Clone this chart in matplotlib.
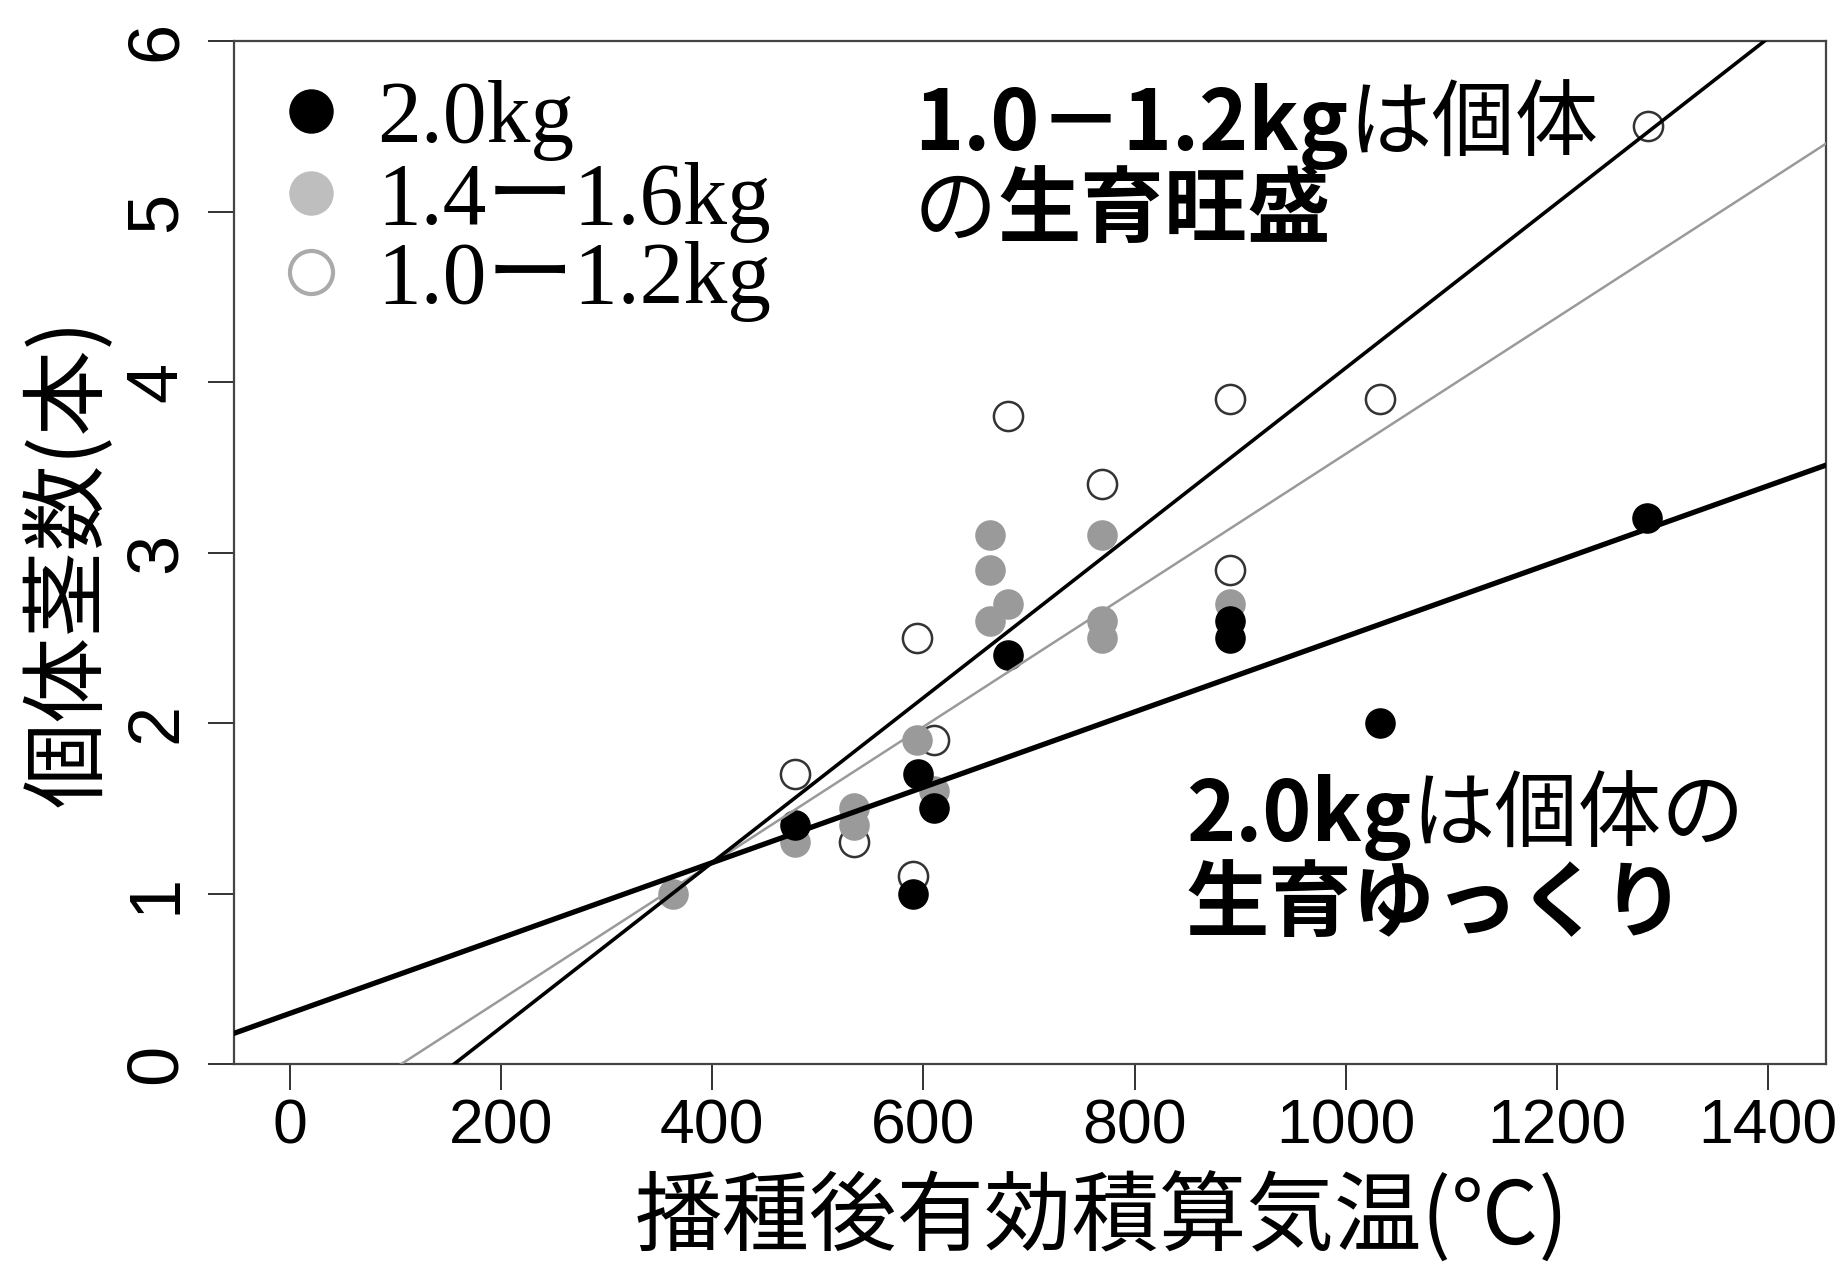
import matplotlib.pyplot as plt
import numpy as np

# 2.0kg
x_20 = [478, 595, 610, 590, 680, 890, 890, 1033, 1285]
y_20 = [1.4, 1.7, 1.5, 1.0, 2.4, 2.6, 2.5, 2.0, 3.2]
# 1.4-1.6kg
x_15 = [363, 478, 534, 534, 594, 610, 663, 663, 680, 663, 769, 769, 769, 890]
y_15 = [1.0, 1.3, 1.5, 1.4, 1.9, 1.6, 3.1, 2.9, 2.7, 2.6, 3.1, 2.6, 2.5, 2.7]
# 1.0-1.2kg
x_11 = [478, 534, 594, 610, 590, 680, 769, 890, 890, 1033, 1286]
y_11 = [1.7, 1.3, 2.5, 1.9, 1.1, 3.8, 3.4, 3.9, 2.9, 3.9, 5.5]

# regression lines: intercept, slope
fit_20 = [0.297, 0.00221]
fit_15 = [-0.422, 0.00400]
fit_11 = [-0.752, 0.004834]

labels = ["2.0kg", "1.4ー1.6kg", "1.0ー1.2kg"]
xticks = [0, 200, 400, 600, 800, 1000, 1200, 1400]
yticks = [0, 1, 2, 3, 4, 5, 6]

W, H = 1838, 1269
fig = plt.figure(figsize=(W / 100, H / 100), dpi=100)
ax = fig.add_axes([234 / W, 1 - 1064 / H, (1826 - 234) / W, (1064 - 41) / H])

xmin, xmax = -53, 1455
ax.set_xlim(xmin, xmax)
ax.set_ylim(0, 6)

ms = 21
ax.plot(x_11, y_11, "o", ms=ms, mfc="white", mec="#333333", mew=1.8, ls="none", zorder=2)
ax.plot(x_15, y_15, "o", ms=ms, color="#9a9a9a", ls="none", zorder=3)
ax.plot(x_20, y_20, "o", ms=ms, color="black", ls="none", zorder=4)

xl = np.array([xmin - 50, xmax + 50])
ax.plot(xl, fit_15[0] + fit_15[1] * xl, color="#9a9a9a", lw=1.8, zorder=5)
ax.plot(xl, fit_11[0] + fit_11[1] * xl, color="black", lw=2.6, zorder=5)
ax.plot(xl, fit_20[0] + fit_20[1] * xl, color="black", lw=3.8, zorder=5)

ax.set_xticks(xticks)
ax.set_yticks(yticks)
tickfont = ["Liberation Sans Narrow", "Liberation Sans"]
ax.tick_params(length=19, width=1.3, color="#222222", pad=5)
ax.tick_params(axis="y", pad=12)
for lbl in ax.get_xticklabels():
    lbl.set_family(tickfont)
    lbl.set_fontsize(45)
for lbl in ax.get_yticklabels():
    lbl.set_family(tickfont)
    lbl.set_fontsize(52)
    lbl.set_rotation(90)
    lbl.set_va("center")
for sp in ax.spines.values():
    sp.set_color("#444444")
    sp.set_linewidth(1.6)

cjk = ["Noto Sans CJK JP", "DejaVu Sans"]
fig.text(1102 / W, 1 - 1219 / H, "播種後有効積算気温(℃)", family=cjk, fontsize=63,
         ha="center", va="center")
fig.text(70 / W, 1 - 563 / H, "個体茎数(本)", family=cjk, fontsize=62,
         ha="center", va="center", rotation=90)

# legend
serif = ["Liberation Serif", "Noto Sans CJK JP"]
leg_cols = [dict(mfc="black", mec="black"),
            dict(mfc="#bebebe", mec="#bebebe"),
            dict(mfc="white", mec="#aaaaaa", mew=3)]
leg_y = [111, 193, 272]
for lab, st, yy in zip(labels, leg_cols, leg_y):
    fy = 1 - yy / H
    fig.lines.append(plt.Line2D([311 / W], [fy], marker="o", ms=31, ls="none",
                                transform=fig.transFigure, **st))
    fig.text(377 / W, fy, lab, family=serif, fontsize=63, ha="left", va="center_baseline")

renderer = fig.canvas.get_renderer()


def put_line(x0, ybase, pieces, size=60):
    x = x0
    for txt, bold in pieces:
        t = fig.text(x / W, 1 - ybase / H, txt, family=cjk, fontsize=size,
                     fontweight="bold" if bold else "normal", ha="left", va="baseline")
        bb = t.get_window_extent(renderer)
        x = bb.x1


put_line(914, 150, [("1.0－1.2kg", True), ("は個体", False)])
put_line(914, 236, [("の", False), ("生育旺盛", True)])
put_line(1186, 841, [("2.0kg", True), ("は個体の", False)])
put_line(1186, 930, [("生育ゆっくり", True)])

fig.savefig("out.png", dpi=100)
